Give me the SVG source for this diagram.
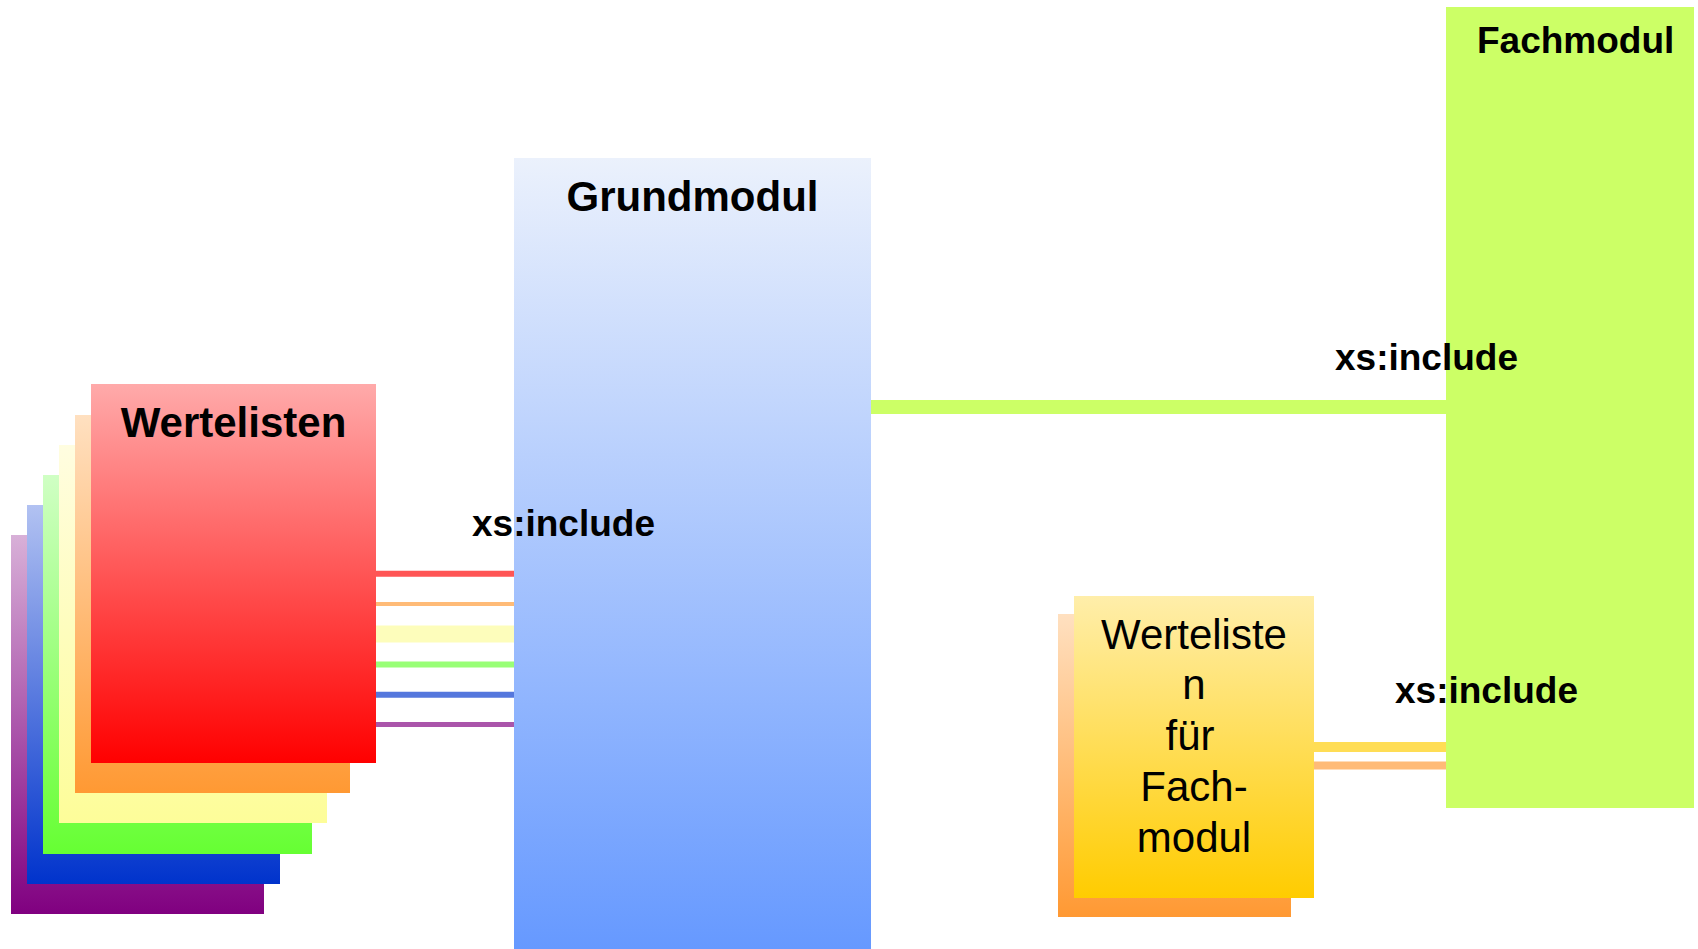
<svg xmlns="http://www.w3.org/2000/svg" width="1698" height="949" viewBox="0 0 1698 949">
<style>
.lbl{font-family:"Liberation Sans",Arial,sans-serif;font-weight:bold;fill:#000}
.big{font-size:42px}
.mid{font-size:37px}
.reg{font-family:"Liberation Sans",Arial,sans-serif;font-size:42px;fill:#000;text-anchor:middle}
.conn{fill:none}
</style>
<defs>
<linearGradient id="gRed" x1="0" y1="0" x2="0" y2="1"><stop offset="0" stop-color="#ffaaaa"/><stop offset="1" stop-color="#ff0000"/></linearGradient>
<linearGradient id="gOrange" x1="0" y1="0" x2="0" y2="1"><stop offset="0" stop-color="#ffe0c0"/><stop offset="1" stop-color="#ff9933"/></linearGradient>
<linearGradient id="gYellow" x1="0" y1="0" x2="0" y2="1"><stop offset="0" stop-color="#fffde0"/><stop offset="1" stop-color="#fdfd99"/></linearGradient>
<linearGradient id="gGreen" x1="0" y1="0" x2="0" y2="1"><stop offset="0" stop-color="#d0ffc4"/><stop offset="1" stop-color="#66ff33"/></linearGradient>
<linearGradient id="gBlue" x1="0" y1="0" x2="0" y2="1"><stop offset="0" stop-color="#b2c2f2"/><stop offset="1" stop-color="#0033cc"/></linearGradient>
<linearGradient id="gPurple" x1="0" y1="0" x2="0" y2="1"><stop offset="0" stop-color="#d8b0d8"/><stop offset="1" stop-color="#800080"/></linearGradient>
<linearGradient id="gGrund" x1="0" y1="0" x2="0" y2="1"><stop offset="0" stop-color="#ebf1fc"/><stop offset="1" stop-color="#6699ff"/></linearGradient>
<linearGradient id="gGold" x1="0" y1="0" x2="0" y2="1"><stop offset="0" stop-color="#ffeeaa"/><stop offset="1" stop-color="#ffcc00"/></linearGradient>
</defs>
<rect width="1698" height="949" fill="#ffffff"/>

<g id="connectors">
<line class="conn" x1="376" y1="573.7" x2="514" y2="573.7" stroke="#ff5555" stroke-width="6"/>
<line class="conn" x1="376" y1="604" x2="514" y2="604" stroke="#ffbb77" stroke-width="4"/>
<line class="conn" x1="376" y1="634" x2="514" y2="634" stroke="#fdfdbb" stroke-width="17"/>
<line class="conn" x1="376" y1="664.5" x2="514" y2="664.5" stroke="#99ff77" stroke-width="6"/>
<line class="conn" x1="376" y1="694.7" x2="514" y2="694.7" stroke="#5577dd" stroke-width="6"/>
<line class="conn" x1="376" y1="724.5" x2="514" y2="724.5" stroke="#aa55aa" stroke-width="5"/>
<line class="conn" x1="870" y1="407" x2="1446" y2="407" stroke="#ccff66" stroke-width="14"/>
<line class="conn" x1="1314" y1="747" x2="1446" y2="747" stroke="#ffdd55" stroke-width="10"/>
<line class="conn" x1="1314" y1="765.5" x2="1446" y2="765.5" stroke="#ffbb77" stroke-width="8"/>
</g>

<g id="wertelisten">
<rect x="11" y="535" width="253" height="379" fill="url(#gPurple)"/>
<rect x="27" y="505" width="253" height="379" fill="url(#gBlue)"/>
<rect x="43" y="475" width="269" height="379" fill="url(#gGreen)"/>
<rect x="59" y="445" width="268" height="378" fill="url(#gYellow)"/>
<rect x="75" y="415" width="275" height="378" fill="url(#gOrange)"/>
<rect x="91" y="384" width="285" height="379" fill="url(#gRed)"/>
<text class="lbl big" x="233.5" y="437" text-anchor="middle">Wertelisten</text>
</g>

<g id="grundmodul">
<rect x="514" y="158" width="357" height="791" fill="url(#gGrund)"/>
<text class="lbl big" x="692.5" y="211" text-anchor="middle">Grundmodul</text>
</g>

<g id="fachmodul">
<rect x="1446" y="7" width="248" height="801" fill="#ccff66"/>
<text class="lbl mid" x="1477" y="53">Fachmodul</text>
</g>

<g id="werteliste-fachmodul">
<rect x="1058" y="614" width="233" height="303" fill="url(#gOrange)"/>
<rect x="1074" y="596" width="240" height="302" fill="url(#gGold)"/>
<text class="reg" x="1194" y="649">Werteliste</text>
<text class="reg" x="1194" y="699">n</text>
<text class="reg" x="1190" y="750">für</text>
<text class="reg" x="1194" y="801">Fach-</text>
<text class="reg" x="1194" y="852">modul</text>
</g>

<g id="labels">
<text class="lbl mid" x="472" y="536">xs:include</text>
<text class="lbl mid" x="1335" y="370">xs:include</text>
<text class="lbl mid" x="1395" y="703">xs:include</text>
</g>
</svg>
